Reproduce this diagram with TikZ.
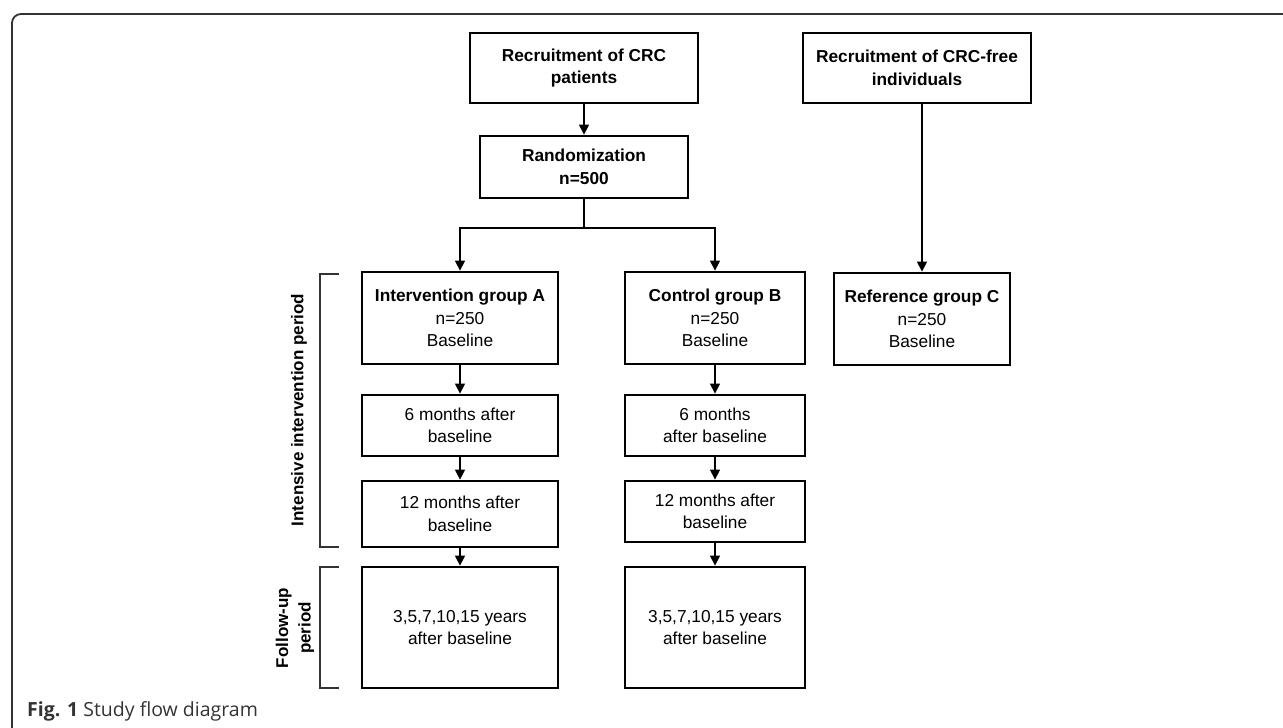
\documentclass[tikz,border=0pt]{standalone}
\usepackage{fontspec}
\setmainfont{Liberation Sans}
\newfontfamily\capfont{Open Sans}
\usetikzlibrary{arrows.meta}
\definecolor{frame}{HTML}{333333}
\tikzset{
  box/.style={draw=black, line width=2.8pt, align=center, inner sep=0pt,
    font=\fontsize{17.3}{22.5}\selectfont},
  conn/.style={line width=1.4pt, black},
  arr/.style={conn, -{Triangle[length=10pt,width=10pt]}},
  brk/.style={line width=1.4pt, draw=frame},
  side/.style={font=\fontsize{17}{22.5}\selectfont\bfseries, align=center, rotate=90, inner sep=0pt}
}
\begin{document}
\begin{tikzpicture}[x=1pt,y=-1pt]
\useasboundingbox (0,0) rectangle (1283,728);
% frame
\draw[line width=1.8pt, frame, rounded corners=9pt] (1283,14) -- (12,14) -- (12,728);
% top boxes
\node[box, minimum width=228pt, minimum height=70pt] (R1) at (584,68) {\bfseries Recruitment of CRC\\\bfseries patients};
\node[box, minimum width=208pt, minimum height=62pt] (RD) at (584,167) {\bfseries Randomization\\\bfseries n=500};
\node[box, minimum width=228pt, minimum height=70pt] (R2) at (917,68) {\bfseries Recruitment of CRC-free\\\bfseries individuals};
% group boxes
\node[box, minimum width=196pt, minimum height=92pt] (A) at (460,318) {\bfseries Intervention group A\\n=250\\Baseline};
\node[box, minimum width=180pt, minimum height=92pt] (B) at (715,318) {\bfseries Control group B\\n=250\\Baseline};
\node[box, minimum width=176pt, minimum height=92pt] (C) at (922,319) {\bfseries Reference group C\\n=250\\Baseline};
\node[box, minimum width=196pt, minimum height=61pt] (A6) at (460,425.5) {6 months after\\baseline};
\node[box, minimum width=180pt, minimum height=61pt] (B6) at (715,425.5) {6 months\\after baseline};
\node[box, minimum width=196pt, minimum height=66pt] (A12) at (460,514) {12 months after\\baseline};
\node[box, minimum width=180pt, minimum height=61pt] (B12) at (715,511.5) {12 months after\\baseline};
\node[box, minimum width=196pt, minimum height=121pt] (AF) at (460,627.5) {3,5,7,10,15 years\\after baseline};
\node[box, minimum width=180pt, minimum height=121pt] (BF) at (715,627.5) {3,5,7,10,15 years\\after baseline};
% connectors
\coordinate (sp) at (584,228);
\draw[arr] (R1) -- (RD);
\draw[conn] (RD) -- (sp);
\draw[arr] (sp) -| (A.north);
\draw[arr] (sp) -| (B.north);
\draw[arr] (R2.south -| C.north) -- (C.north);
\draw[arr] (A) -- (A6);
\draw[arr] (A6) -- (A12);
\draw[arr] (A12) -- (AF);
\draw[arr] (B) -- (B6);
\draw[arr] (B6) -- (B12);
\draw[arr] (B12) -- (BF);
% brackets
\draw[brk] (339,274) -- (320,274) -- (320,547) -- (339,547);
\draw[brk] (339,567) -- (320,567) -- (320,688) -- (339,688);
\node[side] (L1) at (299,410) {Intensive intervention period};
\node[side] (L2) at (295,628) {Follow-up\\period};
% caption
\node[anchor=base west, inner sep=0pt, font=\capfont\fontsize{19.5}{23}\selectfont, text=frame] (cap) at (27,716) {\textbf{Fig. 1} Study flow diagram};
\end{tikzpicture}
\end{document}
